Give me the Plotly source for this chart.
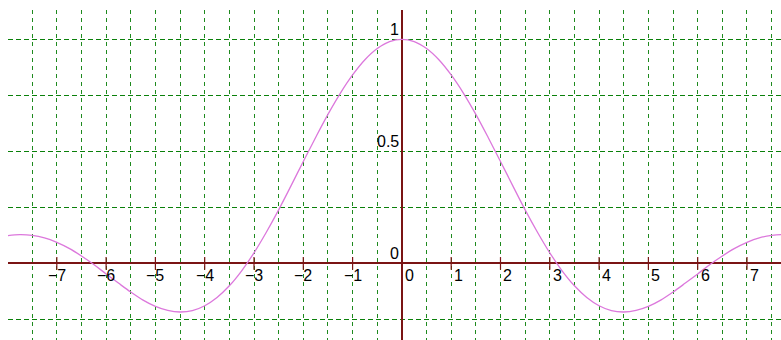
import plotly.graph_objects as go

# Samples of the plotted curve, read at steps of 0.25 along x
x_vals = [-8.0, -7.75, -7.5, -7.25, -7.0, -6.75, -6.5, -6.25, -6.0, -5.75, -5.5, -5.25,
          -5.0, -4.75, -4.5, -4.25, -4.0, -3.75, -3.5, -3.25, -3.0, -2.75, -2.5, -2.25,
          -2.0, -1.75, -1.5, -1.25, -1.0, -0.75, -0.5, -0.25, 0.0, 0.25, 0.5, 0.75,
          1.0, 1.25, 1.5, 1.75, 2.0, 2.25, 2.5, 2.75, 3.0, 3.25, 3.5, 3.75,
          4.0, 4.25, 4.5, 4.75, 5.0, 5.25, 5.5, 5.75, 6.0, 6.25, 6.5, 6.75,
          7.0, 7.25, 7.5, 7.75, 8.0]
y_vals = [0.124, 0.128, 0.125, 0.114, 0.094, 0.067, 0.033, -0.005, -0.047, -0.088, -0.128, -0.164,
          -0.192, -0.210, -0.217, -0.211, -0.189, -0.152, -0.100, -0.033, 0.047, 0.139, 0.239, 0.346,
          0.455, 0.562, 0.665, 0.759, 0.841, 0.909, 0.959, 0.990, 1.000, 0.990, 0.959, 0.909,
          0.841, 0.759, 0.665, 0.562, 0.455, 0.346, 0.239, 0.139, 0.047, -0.033, -0.100, -0.152,
          -0.189, -0.211, -0.217, -0.210, -0.192, -0.164, -0.128, -0.088, -0.047, -0.005, 0.033, 0.067,
          0.094, 0.114, 0.125, 0.128, 0.124]

# Integer tick positions on the horizontal axis and their labels
x_ticks = [-7, -6, -5, -4, -3, -2, -1, 0, 1, 2, 3, 4, 5, 6, 7]
x_tick_labels = ["\u22127", "\u22126", "\u22125", "\u22124", "\u22123", "\u22122", "\u22121",
                 "0", "1", "2", "3", "4", "5", "6", "7"]
# Labels along the vertical axis
y_ticks = [0, 0.5, 1]
y_tick_labels = ["0", "0.5", "1"]

AXIS_COLOR = "#7a1414"
VGRID_COLOR = "#1e8a1e"
HGRID_COLOR = "#0a800a"
CURVE_COLOR = "#dc78dc"
FONT = "Liberation Sans"

fig = go.Figure()

fig.add_trace(go.Scatter(
    x=x_vals, y=y_vals, mode="lines",
    line=dict(color=CURVE_COLOR, width=1.3, shape="spline"),
    hoverinfo="skip", showlegend=False,
))

# Small tick marks crossing the horizontal axis
tick_x = [t for t in x_ticks if t != 0]
fig.add_trace(go.Scatter(
    x=tick_x, y=[0] * len(tick_x), mode="markers",
    marker=dict(symbol="line-ns", size=9, line=dict(color=AXIS_COLOR, width=1.2)),
    hoverinfo="skip", showlegend=False,
))

annotations = []
for t, lab in zip(x_ticks, x_tick_labels):
    annotations.append(dict(
        x=t, y=0, xref="x", yref="y", text=lab, showarrow=False,
        xanchor="left", yanchor="top",
        xshift=(-11 if t < 0 else 1), yshift=-2,
        font=dict(family=FONT, size=16, color="#000000"),
    ))
for v, lab in zip(y_ticks, y_tick_labels):
    annotations.append(dict(
        x=0, y=v, xref="x", yref="y", text=lab, showarrow=False,
        xanchor="right", yanchor="bottom", xshift=-1, yshift=-1,
        font=dict(family=FONT, size=16, color="#000000"),
    ))

fig.update_layout(
    width=781, height=340,
    margin=dict(l=8, r=0, t=10, b=0),
    paper_bgcolor="white", plot_bgcolor="white",
    annotations=annotations,
    xaxis=dict(
        range=[-7.99, 7.69], dtick=0.5, tick0=0,
        showgrid=True, gridcolor=VGRID_COLOR, gridwidth=1, griddash="4px,4px",
        zeroline=True, zerolinecolor=AXIS_COLOR, zerolinewidth=2,
        showticklabels=False, ticks="", showline=False, fixedrange=True,
    ),
    yaxis=dict(
        range=[-0.342, 1.131], dtick=0.25, tick0=0,
        showgrid=True, gridcolor=HGRID_COLOR, gridwidth=1.2, griddash="5px,3px",
        zeroline=True, zerolinecolor=AXIS_COLOR, zerolinewidth=2,
        showticklabels=False, ticks="", showline=False, fixedrange=True,
    ),
)

fig.write_html("out.html")
